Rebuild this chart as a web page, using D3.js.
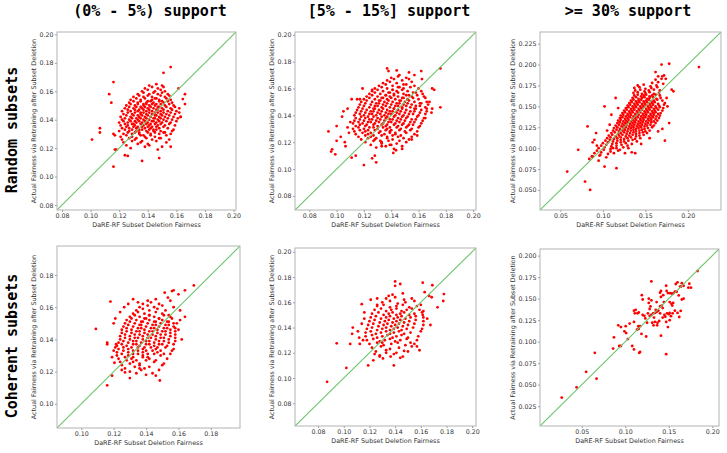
<!DOCTYPE html>
<html><head><meta charset="utf-8">
<script src="https://cdn.jsdelivr.net/npm/d3@7"></script>
<style>body{margin:0;background:#fff}svg{display:block}</style>
</head><body>
<svg id="chart" width="727" height="453"></svg>
<script>
// ---------- text ----------
const colTitles = ["(0% - 5%) support", "[5% - 15%] support", ">= 30% support"];
const rowTitles = ["Random subsets", "Coherent subsets"];
const xLabel = "DaRE-RF Subset Deletion Fairness";
const yLabel = "Actual Fairness via Retraining after Subset Deletion";

// ---------- tick values ----------
const ticksA = [0.08, 0.10, 0.12, 0.14, 0.16, 0.18, 0.20];
const ticksWideX = [0.05, 0.10, 0.15, 0.20];
const ticksHighY = [0.050, 0.075, 0.100, 0.125, 0.150, 0.175, 0.200, 0.225];
const ticksCohLow = [0.10, 0.12, 0.14, 0.16, 0.18];
const ticksCohHighY = [0.025, 0.050, 0.075, 0.100, 0.125, 0.150, 0.175, 0.200];

// ---------- axis limits ----------
const limRandLow = [0.0765, 0.2017];
const limRandMid = [0.0695, 0.2021];
const limRandHigh = [0.026, 0.239];
const limCohLow = [0.085, 0.198];
const limCohMid = [0.062, 0.203];
const limCohHigh = [0.002, 0.2077];

// ---------- points [DaRE-RF fairness, actual fairness] ----------
const randLow = [
[.128,.120],[.138,.121],[.147,.119],
[.125,.122],[.133,.123],[.141,.122],[.150,.121],
[.123,.124],[.129,.125],[.135,.124],[.140,.123],[.146,.125],[.153,.124],
[.122,.126],[.127,.127],[.131,.126],[.136,.125],[.139,.127],[.143,.126],[.148,.127],[.155,.126],
[.121,.128],[.125,.129],[.129,.128],[.132,.127],[.135,.129],[.138,.128],[.142,.129],[.145,.128],[.149,.127],[.153,.129],
[.123,.130],[.126,.131],[.129,.130],[.131,.131],[.134,.130],[.137,.129],[.140,.131],[.142,.130],[.145,.131],[.148,.130],[.151,.131],[.156,.130],
[.120,.132],[.124,.133],[.127,.132],[.129,.133],[.132,.132],[.134,.131],[.136,.133],[.139,.132],[.141,.133],[.144,.132],[.146,.133],[.149,.132],[.152,.131],[.157,.132],
[.122,.134],[.125,.135],[.127,.134],[.130,.135],[.132,.134],[.134,.133],[.136,.135],[.138,.134],[.140,.135],[.142,.134],[.144,.133],[.146,.135],[.148,.134],[.151,.135],[.154,.134],[.158,.133],
[.121,.136],[.124,.137],[.126,.136],[.129,.137],[.131,.136],[.133,.135],[.135,.137],[.137,.136],[.139,.137],[.141,.136],[.143,.135],[.145,.137],[.147,.136],[.149,.137],[.152,.136],[.155,.137],[.159,.136],
[.120,.138],[.123,.139],[.126,.138],[.128,.139],[.130,.137],[.132,.138],[.134,.139],[.136,.138],[.138,.139],[.140,.138],[.142,.137],[.144,.139],[.146,.138],[.148,.139],[.150,.138],[.153,.139],[.156,.138],[.160,.139],
[.122,.140],[.124,.141],[.127,.140],[.129,.141],[.131,.139],[.133,.140],[.135,.141],[.137,.140],[.139,.141],[.141,.140],[.143,.139],[.145,.141],[.147,.140],[.149,.141],[.151,.140],[.154,.141],[.157,.140],[.161,.141],
[.121,.142],[.125,.143],[.128,.142],[.130,.143],[.132,.141],[.134,.142],[.136,.143],[.138,.142],[.140,.143],[.142,.142],[.144,.141],[.146,.143],[.148,.142],[.150,.143],[.152,.142],[.155,.143],[.158,.142],[.163,.142],
[.123,.144],[.126,.145],[.129,.144],[.131,.145],[.133,.143],[.135,.144],[.137,.145],[.139,.144],[.141,.145],[.143,.144],[.145,.143],[.147,.145],[.149,.144],[.151,.145],[.153,.144],[.156,.145],[.159,.144],[.162,.145],
[.122,.146],[.126,.147],[.128,.146],[.131,.147],[.133,.146],[.135,.145],[.137,.147],[.139,.146],[.141,.147],[.143,.146],[.145,.145],[.147,.147],[.149,.146],[.151,.147],[.154,.146],[.157,.147],[.160,.146],
[.124,.148],[.127,.149],[.130,.148],[.132,.149],[.134,.147],[.136,.148],[.138,.149],[.140,.148],[.142,.149],[.144,.148],[.146,.147],[.148,.149],[.150,.148],[.153,.149],[.156,.148],[.159,.149],
[.125,.150],[.128,.151],[.131,.150],[.133,.151],[.135,.149],[.137,.150],[.139,.151],[.141,.150],[.143,.151],[.145,.150],[.147,.149],[.149,.151],[.152,.150],[.155,.151],[.158,.150],
[.127,.152],[.130,.153],[.133,.152],[.135,.153],[.137,.151],[.139,.152],[.142,.153],[.144,.152],[.146,.151],[.148,.153],[.151,.152],[.154,.153],[.157,.152],
[.128,.154],[.132,.155],[.135,.154],[.138,.155],[.140,.153],[.143,.154],[.145,.155],[.148,.154],[.150,.153],[.153,.155],[.156,.154],
[.130,.156],[.134,.157],[.137,.156],[.140,.157],[.143,.156],[.146,.155],[.149,.157],[.152,.156],[.155,.157],
[.133,.158],[.137,.159],[.141,.158],[.144,.159],[.147,.158],[.150,.159],[.154,.158],
[.136,.160],[.140,.161],[.145,.160],[.149,.161],[.152,.160],
[.138,.162],[.143,.163],[.147,.162],[.151,.163],
[.141,.164],[.146,.165],[.150,.164],
[.101,.126],[.1065,.134],[.1065,.131],[.113,.158],[.1145,.152],[.116,.1665],[.116,.107],[.116,.130],[.117,.129],[.117,.119],[.118,.119],
[.124,.115],[.126,.1145],[.136,.111],[.148,.113],[.156,.121],[.156,.177],[.151,.173],[.1615,.162],[.166,.158],[.1645,.1545],[.166,.151],[.163,.142],[.162,.148]
];

const randMid = [
[.129,.116],[.136,.117],[.142,.115],
[.125,.118],[.133,.119],[.140,.118],[.148,.117],
[.121,.120],[.127,.121],[.133,.120],[.138,.121],[.144,.119],[.151,.120],
[.118,.122],[.123,.123],[.128,.122],[.132,.121],[.137,.123],[.141,.122],[.146,.121],[.153,.122],
[.116,.124],[.121,.125],[.125,.124],[.129,.123],[.133,.125],[.137,.124],[.141,.125],[.145,.124],[.149,.123],[.155,.124],
[.114,.126],[.119,.127],[.123,.126],[.127,.125],[.131,.127],[.135,.126],[.139,.127],[.143,.126],[.147,.125],[.151,.127],[.157,.126],
[.113,.128],[.117,.129],[.121,.128],[.125,.127],[.128,.129],[.132,.128],[.136,.129],[.139,.128],[.143,.127],[.146,.129],[.150,.128],[.154,.129],[.159,.128],
[.112,.130],[.116,.131],[.120,.130],[.123,.129],[.127,.131],[.130,.130],[.134,.131],[.137,.130],[.140,.129],[.144,.131],[.147,.130],[.151,.131],[.155,.130],[.160,.131],
[.114,.132],[.117,.133],[.121,.132],[.124,.131],[.127,.133],[.130,.132],[.133,.133],[.136,.132],[.139,.131],[.142,.133],[.145,.132],[.148,.133],[.152,.132],[.156,.133],[.161,.132],
[.112,.134],[.116,.135],[.119,.134],[.122,.133],[.125,.135],[.128,.134],[.131,.135],[.134,.134],[.137,.133],[.140,.135],[.143,.134],[.146,.135],[.149,.134],[.153,.133],[.157,.135],[.162,.134],
[.113,.136],[.117,.137],[.120,.136],[.123,.135],[.126,.137],[.129,.136],[.132,.137],[.135,.136],[.138,.135],[.141,.137],[.144,.136],[.147,.137],[.150,.136],[.154,.135],[.158,.137],[.163,.136],
[.114,.138],[.118,.139],[.121,.138],[.124,.137],[.127,.139],[.130,.138],[.133,.139],[.136,.138],[.139,.137],[.142,.139],[.145,.138],[.148,.139],[.151,.138],[.155,.137],[.159,.139],[.164,.138],
[.113,.140],[.117,.141],[.120,.140],[.123,.139],[.126,.141],[.129,.140],[.132,.141],[.135,.140],[.137,.139],[.140,.141],[.143,.140],[.146,.141],[.149,.140],[.152,.139],[.156,.141],[.160,.140],[.165,.141],
[.114,.142],[.118,.143],[.121,.142],[.124,.141],[.127,.143],[.130,.142],[.133,.143],[.136,.142],[.138,.141],[.141,.143],[.144,.142],[.147,.143],[.150,.142],[.153,.141],[.157,.143],[.161,.142],[.166,.143],
[.115,.144],[.119,.145],[.122,.144],[.125,.143],[.128,.145],[.131,.144],[.134,.145],[.137,.144],[.139,.143],[.142,.145],[.145,.144],[.148,.145],[.151,.144],[.154,.143],[.158,.145],[.162,.144],[.166,.145],
[.116,.146],[.120,.147],[.124,.146],[.127,.145],[.130,.147],[.133,.146],[.136,.147],[.139,.146],[.142,.145],[.145,.147],[.148,.146],[.151,.147],[.154,.146],[.157,.145],[.161,.147],[.165,.146],
[.117,.148],[.121,.149],[.125,.148],[.128,.147],[.131,.149],[.134,.148],[.137,.149],[.140,.148],[.143,.147],[.146,.149],[.149,.148],[.152,.149],[.155,.148],[.158,.147],[.162,.149],[.167,.148],
[.118,.150],[.122,.151],[.126,.150],[.129,.149],[.132,.151],[.135,.150],[.138,.151],[.141,.150],[.144,.149],[.147,.151],[.150,.150],[.153,.151],[.157,.150],[.161,.149],[.166,.150],
[.120,.152],[.124,.153],[.128,.152],[.131,.151],[.134,.153],[.137,.152],[.140,.153],[.143,.152],[.146,.151],[.149,.153],[.152,.152],[.156,.153],[.160,.152],[.165,.153],
[.122,.154],[.126,.155],[.130,.154],[.133,.153],[.136,.155],[.139,.154],[.142,.155],[.145,.154],[.148,.153],[.151,.155],[.155,.154],[.159,.155],[.164,.154],
[.124,.156],[.128,.157],[.132,.156],[.136,.155],[.139,.157],[.142,.156],[.145,.157],[.149,.156],[.153,.155],[.158,.157],[.163,.156],
[.126,.158],[.130,.159],[.134,.158],[.138,.157],[.141,.159],[.144,.158],[.148,.159],[.152,.158],[.156,.157],[.162,.158],
[.128,.160],[.133,.161],[.137,.160],[.141,.159],[.145,.161],[.149,.160],[.154,.161],[.160,.160],
[.131,.162],[.136,.163],[.141,.162],[.146,.161],[.151,.163],[.157,.162],
[.134,.164],[.139,.165],[.144,.164],[.149,.163],[.155,.165],
[.137,.166],[.142,.167],[.148,.166],[.153,.167],
[.140,.168],[.145,.169],[.151,.168],
[.094,.128],[.0967,.1147],[.096,.113],[.099,.111],[.100,.132],[.100,.121],[.103,.124],[.106,.120],[.1065,.117],[.104,.139],[.105,.143],
[.108,.131],[.109,.127],[.111,.152],[.111,.1085],[.114,.110],[.115,.152],[.117,.152],[.119,.160],[.120,.103],[.126,.159],[.129,.105],
[.126,.108],[.128,.110],[.137,.175],[.138,.173],[.144,.1735],[.146,.170],[.153,.172],[.157,.170],[.162,.173],[.1625,.167],[.170,.160],
[.1715,.159],[.176,.175],[.176,.146],[.170,.145],[.1695,.142],[.1415,.112],[.139,.118],[.133,.117],[.110,.135],[.108,.145],[.168,.150],
[.165,.138],[.159,.125],[.155,.122],[.148,.115],[.1435,.114]
];

const randHigh = [
[.088,.090],[.096,.091],[.104,.089],
[.090,.094],[.098,.095],[.106,.093],[.113,.094],
[.093,.097],[.101,.098],[.109,.096],[.118,.097],
[.095,.100],[.102,.101],[.109,.099],[.116,.100],[.124,.101],
[.098,.103],[.104,.104],[.110,.102],[.116,.103],[.122,.104],[.129,.103],
[.100,.106],[.106,.107],[.111,.105],[.116,.106],[.121,.107],[.127,.106],[.134,.105],
[.103,.109],[.108,.110],[.112,.108],[.117,.109],[.121,.110],[.125,.108],[.130,.109],[.135,.110],[.140,.108],
[.105,.112],[.109,.113],[.113,.111],[.117,.112],[.121,.113],[.125,.111],[.129,.112],[.133,.113],[.138,.111],[.144,.112],
[.107,.115],[.111,.116],[.115,.114],[.119,.115],[.123,.116],[.127,.114],[.131,.115],[.135,.116],[.139,.114],[.143,.115],[.148,.116],
[.110,.118],[.114,.119],[.118,.117],[.121,.118],[.125,.119],[.128,.117],[.132,.118],[.136,.119],[.139,.117],[.143,.118],[.147,.119],[.152,.118],
[.112,.121],[.116,.122],[.119,.120],[.123,.121],[.126,.122],[.129,.120],[.133,.121],[.136,.122],[.139,.120],[.143,.121],[.146,.122],[.150,.120],[.155,.121],
[.113,.124],[.117,.125],[.120,.123],[.124,.124],[.127,.125],[.130,.123],[.133,.124],[.136,.125],[.139,.123],[.142,.124],[.145,.125],[.149,.123],[.153,.124],[.158,.125],
[.115,.127],[.119,.128],[.122,.126],[.125,.127],[.128,.128],[.131,.126],[.134,.127],[.137,.128],[.140,.126],[.143,.127],[.146,.128],[.149,.126],[.152,.127],[.156,.128],[.160,.127],
[.117,.130],[.120,.131],[.123,.129],[.126,.130],[.129,.131],[.132,.129],[.135,.130],[.138,.131],[.141,.129],[.144,.130],[.147,.131],[.150,.129],[.153,.130],[.157,.131],[.162,.130],
[.118,.133],[.121,.134],[.124,.132],[.127,.133],[.130,.134],[.133,.132],[.136,.133],[.139,.134],[.142,.132],[.145,.133],[.148,.134],[.151,.132],[.154,.133],[.157,.134],[.160,.132],[.164,.133],
[.120,.136],[.123,.137],[.126,.135],[.129,.136],[.132,.137],[.135,.135],[.138,.136],[.141,.137],[.144,.135],[.147,.136],[.150,.137],[.153,.135],[.156,.136],[.159,.137],[.162,.135],[.166,.136],
[.121,.139],[.124,.140],[.127,.138],[.130,.139],[.133,.140],[.136,.138],[.139,.139],[.142,.140],[.145,.138],[.148,.139],[.151,.140],[.154,.138],[.157,.139],[.160,.140],[.163,.138],[.167,.139],
[.123,.142],[.126,.143],[.129,.141],[.132,.142],[.135,.143],[.138,.141],[.141,.142],[.144,.143],[.147,.141],[.150,.142],[.153,.143],[.156,.141],[.159,.142],[.162,.143],[.165,.141],[.168,.142],
[.125,.145],[.128,.146],[.131,.144],[.134,.145],[.137,.146],[.140,.144],[.143,.145],[.146,.146],[.149,.144],[.152,.145],[.155,.146],[.158,.144],[.161,.145],[.165,.146],[.170,.145],
[.127,.148],[.130,.149],[.133,.147],[.136,.148],[.139,.149],[.142,.147],[.145,.148],[.148,.149],[.151,.147],[.154,.148],[.157,.149],[.160,.147],[.163,.148],[.167,.149],[.171,.148],
[.129,.151],[.132,.152],[.135,.150],[.138,.151],[.141,.152],[.144,.150],[.147,.151],[.150,.152],[.153,.150],[.156,.151],[.159,.152],[.162,.150],[.166,.151],[.172,.152],
[.131,.154],[.134,.155],[.137,.153],[.140,.154],[.143,.155],[.146,.153],[.149,.154],[.152,.155],[.155,.153],[.158,.154],[.161,.155],[.165,.153],[.173,.154],
[.133,.157],[.136,.158],[.139,.156],[.142,.157],[.145,.158],[.148,.156],[.151,.157],[.154,.158],[.157,.156],[.160,.157],[.164,.158],[.170,.157],
[.135,.160],[.139,.161],[.142,.159],[.146,.160],[.149,.161],[.152,.159],[.155,.160],[.159,.161],[.163,.159],[.168,.160],
[.137,.163],[.141,.164],[.145,.162],[.148,.163],[.151,.164],[.155,.162],[.158,.163],[.162,.164],[.167,.163],
[.136,.166],[.141,.167],[.146,.165],[.150,.166],[.155,.167],[.160,.165],[.166,.166],
[.138,.169],[.144,.170],[.149,.168],[.154,.169],[.160,.170],[.167,.169],
[.137,.172],[.143,.173],[.150,.171],[.157,.172],[.164,.173],
[.141,.175],[.148,.176],[.156,.174],[.163,.175],
[.158,.178],[.165,.179],[.171,.177],
[.162,.182],[.169,.183],
[.165,.186],[.172,.187],
[.058,.072],[.071,.098],[.079,.060],[.085,.050],[.082,.126],[.084,.087],[.087,.090],[.090,.110],[.088,.107],[.093,.103],[.095,.085],
[.102,.078],[.116,.076],[.102,.150],[.115,.160],[.126,.094],[.134,.095],[.138,.094],[.169,.200],[.162,.191],[.178,.201],[.213,.197],
[.178,.130],[.173,.109],[.181,.170],[.183,.168],[.170,.186],[.174,.183],[.097,.092],[.092,.118],[.105,.121],[.108,.128],[.110,.140],
[.118,.148],[.112,.100],[.120,.098],[.130,.100],[.175,.160],[.176,.150],[.170,.123],[.165,.120],[.155,.112],[.145,.105]
];

const cohLow = [
[.130,.120],[.137,.121],[.144,.119],
[.127,.122],[.133,.123],[.139,.122],[.148,.121],
[.125,.124],[.130,.125],[.136,.124],[.142,.123],[.150,.124],
[.124,.126],[.128,.127],[.132,.126],[.136,.125],[.140,.127],[.145,.126],[.151,.125],
[.123,.128],[.127,.129],[.131,.128],[.134,.127],[.138,.129],[.142,.128],[.146,.127],[.153,.128],
[.122,.130],[.125,.131],[.129,.130],[.132,.129],[.135,.131],[.138,.130],[.141,.129],[.145,.131],[.149,.130],[.155,.131],
[.122,.132],[.126,.133],[.129,.132],[.132,.131],[.135,.133],[.138,.132],[.141,.131],[.144,.133],[.147,.132],[.151,.131],[.156,.133],
[.123,.134],[.126,.135],[.129,.134],[.132,.133],[.135,.135],[.138,.134],[.140,.133],[.143,.135],[.146,.134],[.149,.133],[.152,.135],[.157,.134],
[.122,.136],[.125,.137],[.128,.136],[.131,.135],[.134,.137],[.136,.136],[.139,.135],[.142,.137],[.145,.136],[.147,.135],[.150,.137],[.153,.136],[.157,.137],
[.123,.138],[.126,.139],[.129,.138],[.132,.137],[.134,.139],[.137,.138],[.140,.137],[.142,.139],[.145,.138],[.148,.137],[.151,.139],[.154,.138],[.158,.139],
[.124,.140],[.127,.141],[.130,.140],[.132,.139],[.135,.141],[.138,.140],[.140,.139],[.143,.141],[.146,.140],[.148,.139],[.151,.141],[.154,.140],[.158,.141],
[.124,.142],[.127,.143],[.130,.142],[.133,.141],[.136,.143],[.138,.142],[.141,.141],[.144,.143],[.146,.142],[.149,.141],[.152,.143],[.155,.142],[.158,.143],
[.125,.144],[.128,.145],[.131,.144],[.133,.143],[.136,.145],[.139,.144],[.141,.143],[.144,.145],[.147,.144],[.149,.143],[.152,.145],[.155,.144],[.158,.145],
[.125,.146],[.128,.147],[.131,.146],[.134,.145],[.137,.147],[.139,.146],[.142,.145],[.145,.147],[.147,.146],[.150,.145],[.153,.147],[.155,.146],[.158,.147],
[.126,.148],[.129,.149],[.132,.148],[.135,.147],[.137,.149],[.140,.148],[.143,.147],[.146,.149],[.148,.148],[.151,.147],[.154,.149],[.157,.148],
[.127,.150],[.130,.151],[.133,.150],[.136,.149],[.138,.151],[.141,.150],[.144,.149],[.146,.151],[.149,.150],[.152,.149],[.154,.151],[.157,.150],
[.128,.152],[.131,.153],[.134,.152],[.137,.151],[.140,.153],[.142,.152],[.145,.151],[.148,.153],[.150,.152],[.153,.151],[.156,.153],
[.130,.154],[.133,.155],[.136,.154],[.139,.153],[.142,.155],[.145,.154],[.148,.153],[.151,.155],[.155,.154],
[.132,.156],[.135,.157],[.139,.156],[.142,.155],[.146,.157],[.150,.156],[.154,.155],
[.134,.158],[.138,.159],[.142,.158],[.147,.159],[.152,.158],
[.136,.160],[.141,.161],[.145,.160],[.150,.161],
[.138,.162],[.143,.163],[.148,.162],
[.141,.164],[.146,.165],
[.109,.1465],[.116,.138],[.116,.137],[.116,.1115],[.118,.1635],[.119,.1175],[.120,.133],[.121,.135],[.1215,.137],[.1205,.1255],
[.1265,.160],[.132,.165],[.130,.116],[.127,.1195],[.140,.118],[.146,.1175],[.1485,.1145],[.1515,.169],[.1535,.166],[.156,.170],
[.157,.1705],[.160,.168],[.164,.1705],[.1695,.1735],[.161,.158],[.164,.154],[.161,.152],[.159,.150],[.160,.146],[.162,.140],
[.136,.122],[.134,.119],[.125,.121],[.119,.129],[.120,.150],[.121,.153],[.124,.157],[.129,.162],[.135,.163],[.155,.164],[.157,.160]
];

const cohMid = [
[.128,.118],[.139,.119],[.146,.117],
[.125,.121],[.133,.122],[.141,.120],[.150,.121],
[.122,.124],[.129,.125],[.136,.123],[.143,.124],[.153,.125],
[.120,.127],[.126,.128],[.131,.126],[.137,.127],[.142,.128],[.148,.126],[.155,.127],
[.118,.130],[.123,.131],[.128,.129],[.132,.130],[.136,.131],[.140,.129],[.144,.130],[.149,.131],[.157,.130],
[.117,.133],[.122,.134],[.126,.132],[.130,.133],[.134,.134],[.138,.132],[.141,.133],[.145,.134],[.150,.132],[.158,.133],
[.117,.136],[.121,.137],[.125,.135],[.129,.136],[.133,.137],[.136,.135],[.139,.136],[.143,.137],[.147,.135],[.152,.136],[.160,.137],
[.118,.139],[.122,.140],[.126,.138],[.130,.139],[.133,.140],[.136,.138],[.139,.139],[.142,.140],[.145,.138],[.149,.139],[.154,.140],[.161,.139],
[.119,.142],[.123,.143],[.127,.141],[.131,.142],[.134,.143],[.137,.141],[.140,.142],[.143,.143],[.146,.141],[.150,.142],[.155,.143],[.162,.142],
[.120,.145],[.124,.146],[.128,.144],[.132,.145],[.135,.146],[.138,.144],[.141,.145],[.144,.146],[.147,.144],[.151,.145],[.156,.146],[.162,.145],
[.121,.148],[.125,.149],[.129,.147],[.133,.148],[.136,.149],[.139,.147],[.142,.148],[.145,.149],[.148,.147],[.152,.148],[.156,.149],[.162,.148],
[.122,.151],[.127,.152],[.131,.150],[.135,.151],[.138,.152],[.141,.150],[.144,.151],[.147,.152],[.151,.150],[.155,.151],[.161,.152],
[.124,.154],[.129,.155],[.133,.153],[.137,.154],[.141,.155],[.145,.153],[.149,.154],[.153,.155],[.159,.154],
[.126,.157],[.131,.158],[.136,.156],[.141,.157],[.146,.158],[.151,.156],[.157,.157],
[.130,.160],[.136,.161],[.142,.159],[.148,.160],[.155,.161],
[.133,.163],[.140,.164],[.147,.162],[.153,.163],
[.138,.166],[.146,.167],
[.087,.097],[.0945,.1275],[.102,.108],[.105,.127],[.1065,.135],[.107,.140],[.111,.137],[.112,.132],[.1125,.127],[.114,.1585],
[.116,.152],[.116,.147],[.119,.110],[.121,.162],[.126,.163],[.126,.158],[.123,.114],[.124,.119],[.128,.117],[.1305,.1155],
[.1365,.117],[.139,.110],[.140,.1765],[.140,.173],[.144,.1745],[.144,.116],[.147,.1215],[.159,.122],[.1615,.1755],[.163,.168],
[.169,.1735],[.1685,.164],[.1675,.142],[.173,.156],[.1775,.161],[.178,.1665],[.1665,.165],[.162,.153],[.1615,.150],[.165,.147],
[.160,.158],[.114,.143],[.115,.130],[.152,.128],[.157,.125],[.133,.120],[.135,.165],[.130,.128]
];

const cohHigh = [
[.027,.035],[.044,.047],[.055,.065],[.067,.057],[.065,.087],[.086,.092],[.087,.105],[.093,.095],[.095,.095],[.092,.119],
[.095,.117],[.099,.112],[.101,.110],[.103,.103],[.1005,.118],[.105,.121],[.108,.095],[.110,.091],[.116,.087],[.117,.088],
[.110,.123],[.110,.136],[.111,.133],[.114,.133],[.1155,.134],[.112,.137],[.1135,.114],[.1155,.115],[.115,.118],[.1186,.109],
[.124,.106],[.119,.154],[.120,.149],[.123,.127],[.125,.122],[.127,.150],[.127,.145],[.130,.148],[.130,.170],[.129,.141],
[.128,.130],[.130,.131],[.132,.133],[.134,.1334],[.136,.1345],[.131,.122],[.134,.123],[.137,.122],[.139,.124],[.1325,.119],
[.1366,.119],[.135,.137],[.138,.136],[.140,.141],[.142,.142],[.143,.139],[.136,.146],[.140,.157],[.141,.159],[.141,.152],
[.1436,.154],[.1444,.146],[.141,.107],[.147,.0855],[.147,.165],[.1475,.159],[.149,.1565],[.151,.1565],[.153,.156],[.155,.156],
[.157,.158],[.159,.158],[.158,.167],[.160,.169],[.151,.146],[.153,.144],[.155,.145],[.154,.142],[.148,.133],[.150,.132],
[.151,.1334],[.1525,.1296],[.1544,.133],[.147,.123],[.151,.125],[.149,.117],[.157,.136],[.160,.1334],[.162,.1287],[.1637,.1357],
[.165,.149],[.167,.150],[.1614,.1538],[.163,.164],[.164,.164],[.165,.168],[.167,.165],[.1725,.1627],[.1755,.1627],[.1736,.1673],
[.183,.182],[.122,.130],[.120,.131],[.126,.133],[.117,.118],[.140,.133],[.143,.128],[.128,.138],[.133,.128],[.145,.131],[.146,.129]
];

// ---------- layout ----------
const panels = [
  {data: randLow,  lim: limRandLow,  xt: ticksA,      yt: ticksA,        yf: ".2f", left: 57,  top: 32,  w: 179, h: 178, ylOff: 21.5},
  {data: randMid,  lim: limRandMid,  xt: ticksA,      yt: ticksA,        yf: ".2f", left: 295, top: 32,  w: 181, h: 178, ylOff: 21},
  {data: randHigh, lim: limRandHigh, xt: ticksWideX,  yt: ticksHighY,    yf: ".3f", left: 540, top: 32,  w: 181, h: 178, ylOff: 25.5},
  {data: cohLow,   lim: limCohLow,   xt: ticksCohLow, yt: ticksCohLow,   yf: ".2f", left: 57,  top: 246, w: 183, h: 182, ylOff: 21.5},
  {data: cohMid,   lim: limCohMid,   xt: ticksA,      yt: ticksA,        yf: ".2f", left: 295, top: 248, w: 181, h: 178, ylOff: 21},
  {data: cohHigh,  lim: limCohHigh,  xt: ticksWideX,  yt: ticksCohHighY, yf: ".3f", left: 540, top: 249, w: 179, h: 177, ylOff: 25.5}
];

const svg = d3.select("#chart");
const FONT = "DejaVu Sans, sans-serif";
const MONO = "DejaVu Sans Mono, monospace";

// column titles
const titleX = [150, 389, 628];
colTitles.forEach((t, i) => {
  svg.append("text").attr("x", titleX[i]).attr("y", 16)
    .attr("text-anchor", "middle")
    .style("font-family", MONO)
    .style("font-weight", "bold").style("font-size", "15px").style("fill", "#000")
    .text(t);
});
// row titles
const rowY = [130, 346];
rowTitles.forEach((t, i) => {
  svg.append("text")
    .attr("transform", `translate(16.5,${rowY[i]}) rotate(-90)`)
    .attr("text-anchor", "middle")
    .style("font-family", MONO).style("font-weight", "bold").style("font-size", "15px").style("fill", "#000")
    .text(t);
});

panels.forEach((p, i) => {
  const g = svg.append("g").attr("transform", `translate(${p.left},${p.top})`);
  const x = d3.scaleLinear().domain(p.lim).range([0, p.w]);
  const y = d3.scaleLinear().domain(p.lim).range([p.h, 0]);

  const clipId = "clip" + i;
  g.append("clipPath").attr("id", clipId).append("rect").attr("width", p.w).attr("height", p.h);

  const xa = g.append("g").attr("transform", `translate(0,${p.h})`)
    .call(d3.axisBottom(x).tickValues(p.xt).tickFormat(d3.format(".2f")).tickSize(2).tickPadding(1.5));
  const ya = g.append("g")
    .call(d3.axisLeft(y).tickValues(p.yt).tickFormat(d3.format(p.yf)).tickSize(2).tickPadding(1.5));
  [xa, ya].forEach(a => {
    a.select(".domain").remove();
    a.selectAll("line").attr("stroke", "#555").attr("stroke-width", 0.6);
    a.selectAll("text").style("font-family", FONT).style("font-size", "6.3px").attr("fill", "#333");
  });

  const pts = g.append("g").attr("clip-path", `url(#${clipId})`);
  pts.selectAll("circle").data(p.data).join("circle")
    .attr("cx", d => x(d[0])).attr("cy", d => y(d[1])).attr("r", 1.4)
    .attr("fill", "#ff0000");

  pts.append("line")
    .attr("x1", x(p.lim[0])).attr("y1", y(p.lim[0]))
    .attr("x2", x(p.lim[1])).attr("y2", y(p.lim[1]))
    .attr("stroke", "#6cc46c").attr("stroke-width", 1.1);

  g.append("rect").attr("width", p.w).attr("height", p.h)
    .attr("fill", "none").attr("stroke", "#b3b3b3").attr("stroke-width", 1);

  g.append("text").attr("x", p.w / 2).attr("y", p.h + 16.5)
    .attr("text-anchor", "middle")
    .style("font-family", FONT).style("font-size", "6.4px").style("fill", "#333")
    .text(xLabel);
  g.append("text")
    .attr("transform", `translate(${-p.ylOff},${p.h / 2}) rotate(-90)`)
    .attr("text-anchor", "middle")
    .style("font-family", FONT).style("font-size", "6.4px").style("fill", "#333")
    .text(yLabel);
});
</script>
</body></html>
